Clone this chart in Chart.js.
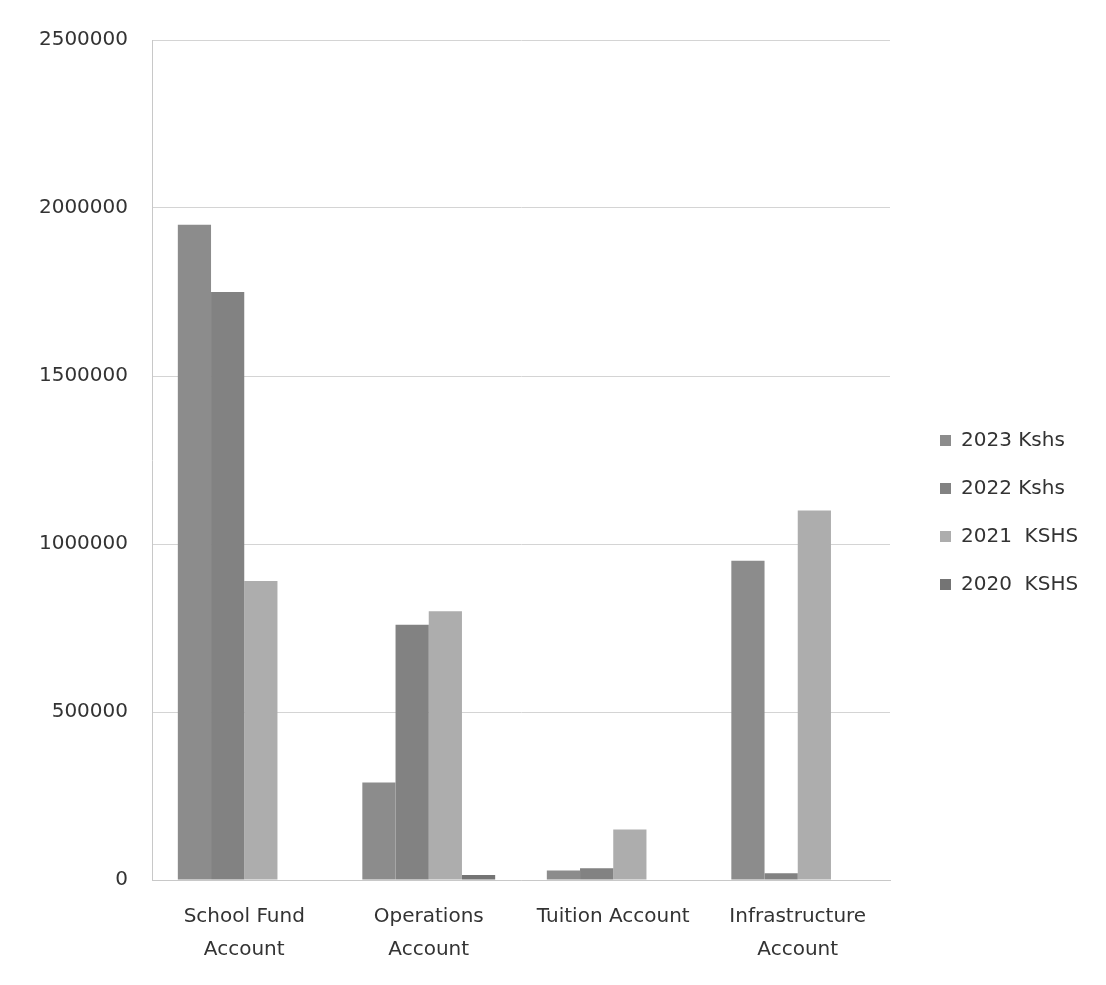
<!DOCTYPE html>
<html>
<head>
<meta charset="utf-8">
<script src="https://cdn.jsdelivr.net/npm/chart.js@4/dist/chart.umd.min.js"></script>
<style>
  html, body { margin: 0; padding: 0; background: #ffffff; }
  #wrap { width: 1106px; height: 985px; position: relative; }
</style>
</head>
<body>
<div id="wrap"><canvas id="c" width="1106" height="985"></canvas></div>
<script>
const categories = [["School Fund", "Account"], ["Operations", "Account"], "Tuition Account", ["Infrastructure", "Account"]];
const seriesNames = ["2023 Kshs", "2022 Kshs", "2021  KSHS", "2020  KSHS"];
const values2023 = [1950000, 290000, 28000, 950000];
const values2022 = [1750000, 760000, 35000, 20000];
const values2021 = [890000, 800000, 150000, 1100000];
const values2020 = [0, 15000, 0, 0];
const seriesColors = ["#8c8c8c", "#828282", "#adadad", "#747474"];
const yTicks = [0, 500000, 1000000, 1500000, 2000000, 2500000];

const seriesValues = [values2023, values2022, values2021, values2020];

const legendFit = {
  id: 'legendFit',
  beforeInit(chart) {
    const orig = chart.legend.fit;
    chart.legend.fit = function () {
      orig.bind(chart.legend)();
      this.width = 194;
    };
  }
};

new Chart(document.getElementById('c'), {
  type: 'bar',
  data: {
    labels: categories,
    datasets: seriesNames.map((n, i) => ({
      label: n,
      data: seriesValues[i],
      backgroundColor: seriesColors[i],
      borderWidth: 0,
      categoryPercentage: 0.72,
      barPercentage: 1.0
    }))
  },
  options: {
    responsive: false,
    animation: false,
    layout: { padding: { top: 40, right: 0, bottom: 0, left: 0 } },
    plugins: {
      legend: {
        position: 'right',
        labels: {
          boxWidth: 11,
          boxHeight: 11,
          padding: 28,
          color: '#333333',
          font: { family: 'DejaVu Sans', size: 20 }
        }
      },
      tooltip: { enabled: false }
    },
    scales: {
      x: {
        grid: { display: false, drawTicks: false },
        border: { display: true, color: '#c8c8c8', width: 1 },
        ticks: {
          color: '#333333',
          font: { family: 'DejaVu Sans', size: 20, lineHeight: 1.65 },
          padding: 20,
          maxRotation: 0,
          autoSkip: false
        },
        afterFit(s) { s.height = 105; }
      },
      y: {
        min: 0,
        max: 2500000,
        afterBuildTicks(s) { s.ticks = yTicks.map(v => ({ value: v })); },
        grid: { color: '#d4d4d4', lineWidth: 1, drawTicks: false },
        border: { display: true, color: '#c8c8c8', width: 1 },
        ticks: {
          color: '#333333',
          font: { family: 'DejaVu Sans', size: 20 },
          padding: 24,
          callback: v => String(v)
        },
        afterFit(s) { s.width = 152; }
      },
      yr: {
        position: 'right',
        display: true,
        grid: { display: false, drawTicks: false },
        border: { display: false },
        ticks: { display: false },
        afterFit(s) { s.width = 22; }
      }
    }
  },
  plugins: [legendFit]
});
</script>
</body>
</html>
